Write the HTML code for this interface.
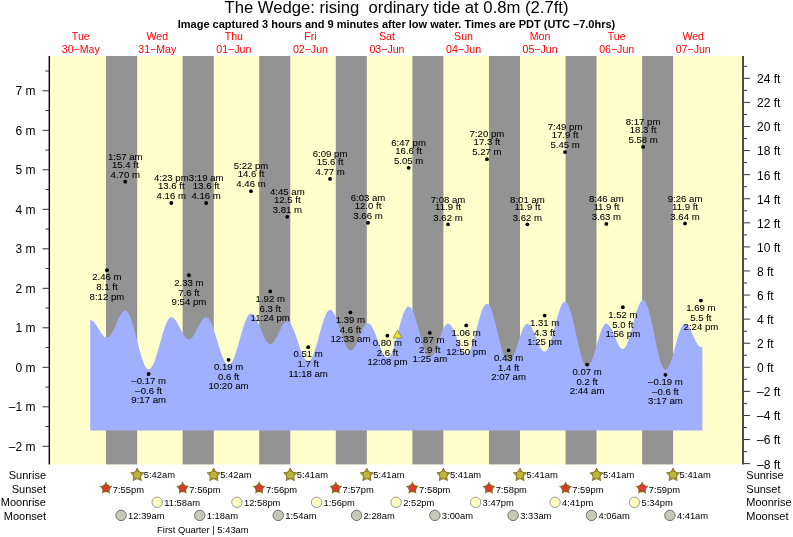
<!DOCTYPE html>
<html><head><meta charset="utf-8"><title>The Wedge tide chart</title>
<style>html,body{margin:0;padding:0;background:#fff;width:793px;height:537px;overflow:hidden}svg{display:block}</style>
</head><body>
<svg width="793" height="537" viewBox="0 0 793 537">
<rect x="0" y="0" width="793" height="537" fill="#ffffff"/>
<rect x="50" y="56" width="692.5" height="408.4" fill="#ffffcc"/>
<rect x="106.00" y="56" width="31.21" height="408.4" fill="#939393"/>
<rect x="182.62" y="56" width="31.16" height="408.4" fill="#939393"/>
<rect x="259.18" y="56" width="31.10" height="408.4" fill="#939393"/>
<rect x="335.79" y="56" width="31.05" height="408.4" fill="#939393"/>
<rect x="412.40" y="56" width="31.00" height="408.4" fill="#939393"/>
<rect x="488.96" y="56" width="31.00" height="408.4" fill="#939393"/>
<rect x="565.58" y="56" width="30.94" height="408.4" fill="#939393"/>
<rect x="642.14" y="56" width="30.94" height="408.4" fill="#939393"/>
<path d="M90.19,430.4 L90.19,319.98 L90.89,320.06 L91.59,320.29 L92.28,320.66 L92.98,321.17 L93.67,321.81 L94.37,322.58 L95.07,323.45 L95.76,324.41 L96.46,325.45 L97.16,326.54 L97.85,327.68 L98.55,328.83 L99.25,329.99 L99.94,331.12 L100.64,332.22 L101.34,333.26 L102.03,334.22 L102.73,335.09 L103.43,335.85 L104.12,336.50 L104.82,337.01 L105.52,337.38 L106.21,337.61 L106.91,337.68 L107.67,337.57 L108.44,337.22 L109.20,336.66 L109.97,335.88 L110.73,334.90 L111.49,333.73 L112.26,332.41 L113.02,330.94 L113.79,329.36 L114.55,327.69 L115.31,325.96 L116.08,324.20 L116.84,322.44 L117.61,320.71 L118.37,319.04 L119.14,317.46 L119.90,315.99 L120.66,314.66 L121.43,313.50 L122.19,312.52 L122.96,311.74 L123.72,311.17 L124.49,310.83 L125.25,310.71 L126.23,310.96 L127.20,311.71 L128.17,312.95 L129.15,314.64 L130.12,316.77 L131.10,319.30 L132.07,322.18 L133.05,325.37 L134.02,328.81 L135.00,332.44 L135.97,336.20 L136.95,340.03 L137.92,343.86 L138.90,347.62 L139.87,351.25 L140.85,354.69 L141.82,357.88 L142.80,360.76 L143.77,363.29 L144.74,365.42 L145.72,367.12 L146.69,368.35 L147.67,369.10 L148.64,369.35 L149.59,369.12 L150.53,368.46 L151.47,367.36 L152.42,365.85 L153.36,363.96 L154.31,361.71 L155.25,359.15 L156.19,356.31 L157.14,353.26 L158.08,350.03 L159.02,346.68 L159.97,343.28 L160.91,339.88 L161.86,336.53 L162.80,333.31 L163.74,330.25 L164.69,327.41 L165.63,324.85 L166.57,322.60 L167.52,320.71 L168.46,319.20 L169.41,318.10 L170.35,317.44 L171.29,317.22 L172.03,317.31 L172.76,317.59 L173.49,318.05 L174.23,318.69 L174.96,319.49 L175.69,320.44 L176.43,321.53 L177.16,322.72 L177.89,324.02 L178.63,325.38 L179.36,326.79 L180.09,328.23 L180.83,329.67 L181.56,331.08 L182.29,332.45 L183.02,333.74 L183.76,334.94 L184.49,336.02 L185.22,336.97 L185.96,337.77 L186.69,338.41 L187.42,338.87 L188.16,339.15 L188.89,339.25 L189.61,339.15 L190.33,338.87 L191.05,338.41 L191.77,337.77 L192.49,336.97 L193.21,336.02 L193.93,334.94 L194.65,333.74 L195.37,332.45 L196.09,331.08 L196.81,329.67 L197.53,328.23 L198.25,326.79 L198.97,325.38 L199.69,324.02 L200.41,322.72 L201.13,321.53 L201.85,320.44 L202.57,319.49 L203.29,318.69 L204.01,318.05 L204.73,317.59 L205.45,317.31 L206.17,317.22 L207.10,317.42 L208.04,318.03 L208.97,319.03 L209.90,320.42 L210.83,322.15 L211.77,324.22 L212.70,326.57 L213.63,329.16 L214.56,331.97 L215.50,334.93 L216.43,337.99 L217.36,341.11 L218.29,344.23 L219.23,347.30 L220.16,350.26 L221.09,353.06 L222.02,355.66 L222.96,358.01 L223.89,360.07 L224.82,361.81 L225.76,363.19 L226.69,364.20 L227.62,364.81 L228.55,365.01 L229.49,364.79 L230.42,364.14 L231.36,363.06 L232.29,361.57 L233.23,359.70 L234.16,357.48 L235.10,354.96 L236.03,352.16 L236.97,349.14 L237.90,345.96 L238.84,342.66 L239.77,339.31 L240.71,335.95 L241.64,332.66 L242.58,329.47 L243.51,326.46 L244.45,323.66 L245.38,321.13 L246.32,318.92 L247.25,317.05 L248.19,315.56 L249.12,314.48 L250.05,313.82 L250.99,313.60 L251.79,313.73 L252.59,314.12 L253.40,314.77 L254.20,315.65 L255.00,316.76 L255.80,318.08 L256.60,319.59 L257.41,321.25 L258.21,323.04 L259.01,324.94 L259.81,326.90 L260.61,328.89 L261.41,330.89 L262.22,332.85 L263.02,334.75 L263.82,336.54 L264.62,338.20 L265.42,339.71 L266.23,341.02 L267.03,342.14 L267.83,343.02 L268.63,343.66 L269.43,344.05 L270.24,344.18 L270.95,344.09 L271.66,343.80 L272.37,343.32 L273.08,342.66 L273.79,341.83 L274.50,340.85 L275.21,339.73 L275.92,338.50 L276.64,337.16 L277.35,335.75 L278.06,334.29 L278.77,332.81 L279.48,331.32 L280.19,329.86 L280.90,328.45 L281.61,327.12 L282.32,325.88 L283.04,324.76 L283.75,323.78 L284.46,322.95 L285.17,322.30 L285.88,321.82 L286.59,321.53 L287.30,321.43 L288.17,321.60 L289.04,322.11 L289.91,322.94 L290.78,324.09 L291.66,325.53 L292.53,327.25 L293.40,329.20 L294.27,331.36 L295.14,333.69 L296.01,336.15 L296.88,338.70 L297.75,341.29 L298.62,343.89 L299.49,346.44 L300.36,348.90 L301.23,351.23 L302.10,353.39 L302.97,355.34 L303.84,357.05 L304.71,358.50 L305.59,359.65 L306.46,360.48 L307.33,360.99 L308.20,361.16 L309.11,360.94 L310.02,360.29 L310.93,359.21 L311.84,357.72 L312.75,355.86 L313.66,353.65 L314.57,351.13 L315.48,348.34 L316.39,345.33 L317.30,342.15 L318.21,338.86 L319.12,335.52 L320.03,332.17 L320.94,328.88 L321.85,325.70 L322.76,322.69 L323.68,319.90 L324.59,317.38 L325.50,315.17 L326.41,313.31 L327.32,311.82 L328.23,310.74 L329.14,310.09 L330.05,309.87 L330.90,310.05 L331.75,310.56 L332.60,311.42 L333.45,312.60 L334.30,314.08 L335.15,315.83 L336.00,317.83 L336.85,320.04 L337.70,322.43 L338.56,324.95 L339.41,327.56 L340.26,330.22 L341.11,332.87 L341.96,335.48 L342.81,338.00 L343.66,340.39 L344.51,342.60 L345.36,344.61 L346.21,346.36 L347.06,347.84 L347.91,349.02 L348.76,349.87 L349.61,350.39 L350.46,350.56 L351.20,350.45 L351.93,350.10 L352.66,349.52 L353.39,348.73 L354.12,347.74 L354.85,346.56 L355.58,345.22 L356.31,343.73 L357.04,342.13 L357.77,340.44 L358.51,338.68 L359.24,336.90 L359.97,335.12 L360.70,333.36 L361.43,331.67 L362.16,330.07 L362.89,328.58 L363.62,327.24 L364.35,326.06 L365.09,325.07 L365.82,324.28 L366.55,323.70 L367.28,323.35 L368.01,323.24 L368.82,323.38 L369.63,323.82 L370.44,324.55 L371.24,325.54 L372.05,326.79 L372.86,328.28 L373.67,329.97 L374.48,331.84 L375.29,333.86 L376.10,336.00 L376.90,338.20 L377.71,340.45 L378.52,342.70 L379.33,344.91 L380.14,347.04 L380.95,349.06 L381.76,350.93 L382.56,352.63 L383.37,354.11 L384.18,355.36 L384.99,356.36 L385.80,357.08 L386.61,357.52 L387.42,357.67 L388.30,357.45 L389.18,356.80 L390.07,355.72 L390.95,354.24 L391.83,352.38 L392.72,350.17 L393.60,347.66 L394.49,344.88 L395.37,341.87 L396.25,338.71 L397.14,335.42 L398.02,332.08 L398.91,328.74 L399.79,325.46 L400.67,322.29 L401.56,319.29 L402.44,316.51 L403.33,313.99 L404.21,311.79 L405.09,309.93 L405.98,308.45 L406.86,307.37 L407.74,306.72 L408.63,306.50 L409.51,306.72 L410.39,307.36 L411.27,308.42 L412.16,309.87 L413.04,311.70 L413.92,313.87 L414.80,316.34 L415.68,319.08 L416.56,322.03 L417.45,325.15 L418.33,328.38 L419.21,331.66 L420.09,334.95 L420.97,338.18 L421.85,341.29 L422.74,344.24 L423.62,346.98 L424.50,349.46 L425.38,351.63 L426.26,353.45 L427.14,354.91 L428.03,355.97 L428.91,356.61 L429.79,356.83 L430.55,356.68 L431.31,356.26 L432.07,355.57 L432.83,354.61 L433.59,353.40 L434.35,351.98 L435.11,350.35 L435.87,348.55 L436.63,346.61 L437.39,344.56 L438.15,342.43 L438.91,340.27 L439.67,338.11 L440.43,335.99 L441.19,333.94 L441.95,331.99 L442.71,330.19 L443.47,328.57 L444.23,327.14 L444.99,325.93 L445.75,324.98 L446.51,324.28 L447.27,323.86 L448.03,323.72 L448.78,323.85 L449.54,324.24 L450.30,324.89 L451.06,325.78 L451.81,326.90 L452.57,328.23 L453.33,329.75 L454.09,331.42 L454.84,333.23 L455.60,335.14 L456.36,337.12 L457.12,339.13 L457.87,341.14 L458.63,343.12 L459.39,345.02 L460.15,346.83 L460.90,348.51 L461.66,350.02 L462.42,351.35 L463.18,352.47 L463.94,353.36 L464.69,354.01 L465.45,354.41 L466.21,354.54 L467.07,354.32 L467.94,353.67 L468.80,352.61 L469.66,351.14 L470.53,349.30 L471.39,347.12 L472.26,344.62 L473.12,341.87 L473.98,338.89 L474.85,335.75 L475.71,332.50 L476.58,329.19 L477.44,325.89 L478.30,322.64 L479.17,319.50 L480.03,316.52 L480.90,313.77 L481.76,311.27 L482.62,309.09 L483.49,307.25 L484.35,305.78 L485.22,304.71 L486.08,304.07 L486.94,303.85 L487.84,304.10 L488.75,304.84 L489.65,306.07 L490.55,307.75 L491.45,309.87 L492.35,312.38 L493.25,315.25 L494.16,318.42 L495.06,321.84 L495.96,325.45 L496.86,329.18 L497.76,332.99 L498.66,336.79 L499.57,340.53 L500.47,344.14 L501.37,347.56 L502.27,350.72 L503.17,353.59 L504.07,356.10 L504.98,358.22 L505.88,359.91 L506.78,361.13 L507.68,361.87 L508.58,362.12 L509.37,361.96 L510.15,361.47 L510.93,360.66 L511.72,359.55 L512.50,358.15 L513.29,356.50 L514.07,354.61 L514.86,352.52 L515.64,350.27 L516.42,347.89 L517.21,345.43 L517.99,342.92 L518.78,340.41 L519.56,337.95 L520.35,335.57 L521.13,333.32 L521.91,331.23 L522.70,329.34 L523.48,327.68 L524.27,326.29 L525.05,325.18 L525.83,324.37 L526.62,323.88 L527.40,323.72 L528.12,323.84 L528.84,324.19 L529.56,324.78 L530.27,325.58 L530.99,326.59 L531.71,327.79 L532.43,329.16 L533.15,330.67 L533.86,332.30 L534.58,334.02 L535.30,335.81 L536.02,337.62 L536.73,339.44 L537.45,341.22 L538.17,342.94 L538.89,344.58 L539.60,346.09 L540.32,347.46 L541.04,348.65 L541.76,349.67 L542.48,350.47 L543.19,351.05 L543.91,351.41 L544.63,351.53 L545.48,351.31 L546.33,350.68 L547.18,349.63 L548.03,348.19 L548.88,346.38 L549.73,344.23 L550.58,341.78 L551.43,339.07 L552.29,336.14 L553.14,333.06 L553.99,329.86 L554.84,326.61 L555.69,323.35 L556.54,320.16 L557.39,317.07 L558.24,314.15 L559.09,311.43 L559.94,308.98 L560.79,306.83 L561.64,305.02 L562.49,303.58 L563.34,302.53 L564.19,301.90 L565.05,301.68 L565.96,301.96 L566.88,302.79 L567.80,304.15 L568.72,306.02 L569.64,308.38 L570.56,311.17 L571.48,314.36 L572.40,317.88 L573.32,321.68 L574.24,325.69 L575.16,329.84 L576.08,334.07 L577.00,338.30 L577.92,342.45 L578.84,346.46 L579.75,350.26 L580.67,353.79 L581.59,356.97 L582.51,359.76 L583.43,362.12 L584.35,363.99 L585.27,365.35 L586.19,366.18 L587.11,366.46 L587.91,366.27 L588.71,365.73 L589.52,364.83 L590.32,363.59 L591.12,362.03 L591.92,360.18 L592.72,358.07 L593.52,355.74 L594.33,353.23 L595.13,350.57 L595.93,347.82 L596.73,345.03 L597.53,342.23 L598.34,339.48 L599.14,336.83 L599.94,334.31 L600.74,331.98 L601.54,329.87 L602.35,328.02 L603.15,326.47 L603.95,325.23 L604.75,324.33 L605.55,323.78 L606.36,323.60 L607.04,323.70 L607.73,324.03 L608.42,324.56 L609.10,325.30 L609.79,326.22 L610.48,327.32 L611.16,328.57 L611.85,329.95 L612.54,331.44 L613.22,333.01 L613.91,334.64 L614.60,336.30 L615.28,337.96 L615.97,339.59 L616.66,341.16 L617.34,342.65 L618.03,344.03 L618.72,345.28 L619.40,346.38 L620.09,347.30 L620.78,348.03 L621.46,348.57 L622.15,348.89 L622.84,349.00 L623.68,348.79 L624.53,348.17 L625.37,347.14 L626.21,345.73 L627.06,343.95 L627.90,341.84 L628.75,339.44 L629.59,336.78 L630.43,333.91 L631.28,330.89 L632.12,327.75 L632.97,324.56 L633.81,321.37 L634.65,318.23 L635.50,315.21 L636.34,312.34 L637.19,309.68 L638.03,307.28 L638.87,305.17 L639.72,303.39 L640.56,301.98 L641.41,300.95 L642.25,300.33 L643.09,300.12 L644.02,300.42 L644.95,301.30 L645.89,302.76 L646.82,304.77 L647.75,307.30 L648.68,310.29 L649.61,313.71 L650.54,317.49 L651.47,321.56 L652.40,325.86 L653.33,330.32 L654.26,334.85 L655.19,339.39 L656.12,343.84 L657.05,348.15 L657.98,352.22 L658.91,356.00 L659.84,359.41 L660.77,362.41 L661.70,364.93 L662.63,366.94 L663.56,368.40 L664.49,369.29 L665.42,369.59 L666.24,369.39 L667.06,368.80 L667.88,367.83 L668.69,366.50 L669.51,364.82 L670.33,362.83 L671.15,360.57 L671.96,358.06 L672.78,355.35 L673.60,352.50 L674.42,349.54 L675.23,346.53 L676.05,343.52 L676.87,340.56 L677.69,337.71 L678.50,335.00 L679.32,332.50 L680.14,330.23 L680.96,328.24 L681.77,326.56 L682.59,325.23 L683.41,324.26 L684.22,323.67 L685.04,323.48 L685.70,323.58 L686.36,323.88 L687.02,324.37 L687.68,325.05 L688.34,325.90 L689.00,326.91 L689.66,328.07 L690.32,329.35 L690.98,330.72 L691.64,332.18 L692.30,333.68 L692.96,335.21 L693.62,336.75 L694.28,338.25 L694.94,339.71 L695.60,341.08 L696.26,342.36 L696.93,343.51 L697.59,344.53 L698.25,345.38 L698.91,346.06 L699.57,346.55 L700.23,346.85 L700.89,346.95 L702.39,346.95 L702.39,430.4 Z" fill="#a0b0ff"/>
<line x1="49.3" y1="56" x2="49.3" y2="464.4" stroke="#000000" stroke-width="1.4"/>
<line x1="743" y1="56" x2="743" y2="464.4" stroke="#000000" stroke-width="1.4"/>
<line x1="42.5" y1="446.30" x2="49" y2="446.30" stroke="#333" stroke-width="1"/>
<text x="35.5" y="450.60" font-family="'Liberation Sans', Arial, Helvetica, sans-serif" font-size="12" fill="#000000" text-anchor="end">–2 m</text>
<line x1="45.5" y1="426.55" x2="49" y2="426.55" stroke="#333" stroke-width="1"/>
<line x1="42.5" y1="406.80" x2="49" y2="406.80" stroke="#333" stroke-width="1"/>
<text x="35.5" y="411.10" font-family="'Liberation Sans', Arial, Helvetica, sans-serif" font-size="12" fill="#000000" text-anchor="end">–1 m</text>
<line x1="45.5" y1="387.05" x2="49" y2="387.05" stroke="#333" stroke-width="1"/>
<line x1="42.5" y1="367.30" x2="49" y2="367.30" stroke="#333" stroke-width="1"/>
<text x="35.5" y="371.60" font-family="'Liberation Sans', Arial, Helvetica, sans-serif" font-size="12" fill="#000000" text-anchor="end">0 m</text>
<line x1="45.5" y1="347.55" x2="49" y2="347.55" stroke="#333" stroke-width="1"/>
<line x1="42.5" y1="327.80" x2="49" y2="327.80" stroke="#333" stroke-width="1"/>
<text x="35.5" y="332.10" font-family="'Liberation Sans', Arial, Helvetica, sans-serif" font-size="12" fill="#000000" text-anchor="end">1 m</text>
<line x1="45.5" y1="308.05" x2="49" y2="308.05" stroke="#333" stroke-width="1"/>
<line x1="42.5" y1="288.30" x2="49" y2="288.30" stroke="#333" stroke-width="1"/>
<text x="35.5" y="292.60" font-family="'Liberation Sans', Arial, Helvetica, sans-serif" font-size="12" fill="#000000" text-anchor="end">2 m</text>
<line x1="45.5" y1="268.55" x2="49" y2="268.55" stroke="#333" stroke-width="1"/>
<line x1="42.5" y1="248.80" x2="49" y2="248.80" stroke="#333" stroke-width="1"/>
<text x="35.5" y="253.10" font-family="'Liberation Sans', Arial, Helvetica, sans-serif" font-size="12" fill="#000000" text-anchor="end">3 m</text>
<line x1="45.5" y1="229.05" x2="49" y2="229.05" stroke="#333" stroke-width="1"/>
<line x1="42.5" y1="209.30" x2="49" y2="209.30" stroke="#333" stroke-width="1"/>
<text x="35.5" y="213.60" font-family="'Liberation Sans', Arial, Helvetica, sans-serif" font-size="12" fill="#000000" text-anchor="end">4 m</text>
<line x1="45.5" y1="189.55" x2="49" y2="189.55" stroke="#333" stroke-width="1"/>
<line x1="42.5" y1="169.80" x2="49" y2="169.80" stroke="#333" stroke-width="1"/>
<text x="35.5" y="174.10" font-family="'Liberation Sans', Arial, Helvetica, sans-serif" font-size="12" fill="#000000" text-anchor="end">5 m</text>
<line x1="45.5" y1="150.05" x2="49" y2="150.05" stroke="#333" stroke-width="1"/>
<line x1="42.5" y1="130.30" x2="49" y2="130.30" stroke="#333" stroke-width="1"/>
<text x="35.5" y="134.60" font-family="'Liberation Sans', Arial, Helvetica, sans-serif" font-size="12" fill="#000000" text-anchor="end">6 m</text>
<line x1="45.5" y1="110.55" x2="49" y2="110.55" stroke="#333" stroke-width="1"/>
<line x1="42.5" y1="90.80" x2="49" y2="90.80" stroke="#333" stroke-width="1"/>
<text x="35.5" y="95.10" font-family="'Liberation Sans', Arial, Helvetica, sans-serif" font-size="12" fill="#000000" text-anchor="end">7 m</text>
<line x1="45.5" y1="71.05" x2="49" y2="71.05" stroke="#333" stroke-width="1"/>
<line x1="743.5" y1="463.62" x2="750" y2="463.62" stroke="#333" stroke-width="1"/>
<text x="757" y="468.52" font-family="'Liberation Sans', Arial, Helvetica, sans-serif" font-size="12" fill="#000000">–8 ft</text>
<line x1="743.5" y1="451.58" x2="747" y2="451.58" stroke="#333" stroke-width="1"/>
<line x1="743.5" y1="439.54" x2="750" y2="439.54" stroke="#333" stroke-width="1"/>
<text x="757" y="444.44" font-family="'Liberation Sans', Arial, Helvetica, sans-serif" font-size="12" fill="#000000">–6 ft</text>
<line x1="743.5" y1="427.50" x2="747" y2="427.50" stroke="#333" stroke-width="1"/>
<line x1="743.5" y1="415.46" x2="750" y2="415.46" stroke="#333" stroke-width="1"/>
<text x="757" y="420.36" font-family="'Liberation Sans', Arial, Helvetica, sans-serif" font-size="12" fill="#000000">–4 ft</text>
<line x1="743.5" y1="403.42" x2="747" y2="403.42" stroke="#333" stroke-width="1"/>
<line x1="743.5" y1="391.38" x2="750" y2="391.38" stroke="#333" stroke-width="1"/>
<text x="757" y="396.28" font-family="'Liberation Sans', Arial, Helvetica, sans-serif" font-size="12" fill="#000000">–2 ft</text>
<line x1="743.5" y1="379.34" x2="747" y2="379.34" stroke="#333" stroke-width="1"/>
<line x1="743.5" y1="367.30" x2="750" y2="367.30" stroke="#333" stroke-width="1"/>
<text x="757" y="372.20" font-family="'Liberation Sans', Arial, Helvetica, sans-serif" font-size="12" fill="#000000">0 ft</text>
<line x1="743.5" y1="355.26" x2="747" y2="355.26" stroke="#333" stroke-width="1"/>
<line x1="743.5" y1="343.22" x2="750" y2="343.22" stroke="#333" stroke-width="1"/>
<text x="757" y="348.12" font-family="'Liberation Sans', Arial, Helvetica, sans-serif" font-size="12" fill="#000000">2 ft</text>
<line x1="743.5" y1="331.18" x2="747" y2="331.18" stroke="#333" stroke-width="1"/>
<line x1="743.5" y1="319.14" x2="750" y2="319.14" stroke="#333" stroke-width="1"/>
<text x="757" y="324.04" font-family="'Liberation Sans', Arial, Helvetica, sans-serif" font-size="12" fill="#000000">4 ft</text>
<line x1="743.5" y1="307.10" x2="747" y2="307.10" stroke="#333" stroke-width="1"/>
<line x1="743.5" y1="295.06" x2="750" y2="295.06" stroke="#333" stroke-width="1"/>
<text x="757" y="299.96" font-family="'Liberation Sans', Arial, Helvetica, sans-serif" font-size="12" fill="#000000">6 ft</text>
<line x1="743.5" y1="283.02" x2="747" y2="283.02" stroke="#333" stroke-width="1"/>
<line x1="743.5" y1="270.98" x2="750" y2="270.98" stroke="#333" stroke-width="1"/>
<text x="757" y="275.88" font-family="'Liberation Sans', Arial, Helvetica, sans-serif" font-size="12" fill="#000000">8 ft</text>
<line x1="743.5" y1="258.94" x2="747" y2="258.94" stroke="#333" stroke-width="1"/>
<line x1="743.5" y1="246.90" x2="750" y2="246.90" stroke="#333" stroke-width="1"/>
<text x="757" y="251.80" font-family="'Liberation Sans', Arial, Helvetica, sans-serif" font-size="12" fill="#000000">10 ft</text>
<line x1="743.5" y1="234.86" x2="747" y2="234.86" stroke="#333" stroke-width="1"/>
<line x1="743.5" y1="222.82" x2="750" y2="222.82" stroke="#333" stroke-width="1"/>
<text x="757" y="227.72" font-family="'Liberation Sans', Arial, Helvetica, sans-serif" font-size="12" fill="#000000">12 ft</text>
<line x1="743.5" y1="210.79" x2="747" y2="210.79" stroke="#333" stroke-width="1"/>
<line x1="743.5" y1="198.75" x2="750" y2="198.75" stroke="#333" stroke-width="1"/>
<text x="757" y="203.65" font-family="'Liberation Sans', Arial, Helvetica, sans-serif" font-size="12" fill="#000000">14 ft</text>
<line x1="743.5" y1="186.71" x2="747" y2="186.71" stroke="#333" stroke-width="1"/>
<line x1="743.5" y1="174.67" x2="750" y2="174.67" stroke="#333" stroke-width="1"/>
<text x="757" y="179.57" font-family="'Liberation Sans', Arial, Helvetica, sans-serif" font-size="12" fill="#000000">16 ft</text>
<line x1="743.5" y1="162.63" x2="747" y2="162.63" stroke="#333" stroke-width="1"/>
<line x1="743.5" y1="150.59" x2="750" y2="150.59" stroke="#333" stroke-width="1"/>
<text x="757" y="155.49" font-family="'Liberation Sans', Arial, Helvetica, sans-serif" font-size="12" fill="#000000">18 ft</text>
<line x1="743.5" y1="138.55" x2="747" y2="138.55" stroke="#333" stroke-width="1"/>
<line x1="743.5" y1="126.51" x2="750" y2="126.51" stroke="#333" stroke-width="1"/>
<text x="757" y="131.41" font-family="'Liberation Sans', Arial, Helvetica, sans-serif" font-size="12" fill="#000000">20 ft</text>
<line x1="743.5" y1="114.47" x2="747" y2="114.47" stroke="#333" stroke-width="1"/>
<line x1="743.5" y1="102.43" x2="750" y2="102.43" stroke="#333" stroke-width="1"/>
<text x="757" y="107.33" font-family="'Liberation Sans', Arial, Helvetica, sans-serif" font-size="12" fill="#000000">22 ft</text>
<line x1="743.5" y1="90.39" x2="747" y2="90.39" stroke="#333" stroke-width="1"/>
<line x1="743.5" y1="78.35" x2="750" y2="78.35" stroke="#333" stroke-width="1"/>
<text x="757" y="83.25" font-family="'Liberation Sans', Arial, Helvetica, sans-serif" font-size="12" fill="#000000">24 ft</text>
<line x1="743.5" y1="66.31" x2="747" y2="66.31" stroke="#333" stroke-width="1"/>
<text x="396.5" y="13.2" font-family="'Liberation Sans', Arial, Helvetica, sans-serif" font-size="16.67" fill="#000000" text-anchor="middle" style="white-space:pre">The Wedge: rising  ordinary tide at 0.8m (2.7ft)</text>
<text x="396.5" y="27.9" font-family="'Liberation Sans', Arial, Helvetica, sans-serif" font-size="11" font-weight="bold" fill="#000000" text-anchor="middle">Image captured 3 hours and 9 minutes after low water. Times are PDT (UTC –7.0hrs)</text>
<text x="80.75" y="39.7" font-family="'Liberation Sans', Arial, Helvetica, sans-serif" font-size="10.6" fill="#ff0000" text-anchor="middle">Tue</text>
<text x="80.75" y="52.7" font-family="'Liberation Sans', Arial, Helvetica, sans-serif" font-size="10.6" fill="#ff0000" text-anchor="middle">30−May</text>
<text x="157.31" y="39.7" font-family="'Liberation Sans', Arial, Helvetica, sans-serif" font-size="10.6" fill="#ff0000" text-anchor="middle">Wed</text>
<text x="157.31" y="52.7" font-family="'Liberation Sans', Arial, Helvetica, sans-serif" font-size="10.6" fill="#ff0000" text-anchor="middle">31−May</text>
<text x="233.87" y="39.7" font-family="'Liberation Sans', Arial, Helvetica, sans-serif" font-size="10.6" fill="#ff0000" text-anchor="middle">Thu</text>
<text x="233.87" y="52.7" font-family="'Liberation Sans', Arial, Helvetica, sans-serif" font-size="10.6" fill="#ff0000" text-anchor="middle">01−Jun</text>
<text x="310.43" y="39.7" font-family="'Liberation Sans', Arial, Helvetica, sans-serif" font-size="10.6" fill="#ff0000" text-anchor="middle">Fri</text>
<text x="310.43" y="52.7" font-family="'Liberation Sans', Arial, Helvetica, sans-serif" font-size="10.6" fill="#ff0000" text-anchor="middle">02−Jun</text>
<text x="386.99" y="39.7" font-family="'Liberation Sans', Arial, Helvetica, sans-serif" font-size="10.6" fill="#ff0000" text-anchor="middle">Sat</text>
<text x="386.99" y="52.7" font-family="'Liberation Sans', Arial, Helvetica, sans-serif" font-size="10.6" fill="#ff0000" text-anchor="middle">03−Jun</text>
<text x="463.55" y="39.7" font-family="'Liberation Sans', Arial, Helvetica, sans-serif" font-size="10.6" fill="#ff0000" text-anchor="middle">Sun</text>
<text x="463.55" y="52.7" font-family="'Liberation Sans', Arial, Helvetica, sans-serif" font-size="10.6" fill="#ff0000" text-anchor="middle">04−Jun</text>
<text x="540.11" y="39.7" font-family="'Liberation Sans', Arial, Helvetica, sans-serif" font-size="10.6" fill="#ff0000" text-anchor="middle">Mon</text>
<text x="540.11" y="52.7" font-family="'Liberation Sans', Arial, Helvetica, sans-serif" font-size="10.6" fill="#ff0000" text-anchor="middle">05−Jun</text>
<text x="616.67" y="39.7" font-family="'Liberation Sans', Arial, Helvetica, sans-serif" font-size="10.6" fill="#ff0000" text-anchor="middle">Tue</text>
<text x="616.67" y="52.7" font-family="'Liberation Sans', Arial, Helvetica, sans-serif" font-size="10.6" fill="#ff0000" text-anchor="middle">06−Jun</text>
<text x="693.23" y="39.7" font-family="'Liberation Sans', Arial, Helvetica, sans-serif" font-size="10.6" fill="#ff0000" text-anchor="middle">Wed</text>
<text x="693.23" y="52.7" font-family="'Liberation Sans', Arial, Helvetica, sans-serif" font-size="10.6" fill="#ff0000" text-anchor="middle">07−Jun</text>
<circle cx="106.91" cy="270.13" r="1.9" fill="#000"/>
<text x="106.91" y="280.43" font-family="'Liberation Sans', Arial, Helvetica, sans-serif" font-size="9.6" fill="#000000" stroke="#000000" stroke-width="0.07" text-anchor="middle">2.46 m</text>
<text x="106.91" y="290.43" font-family="'Liberation Sans', Arial, Helvetica, sans-serif" font-size="9.6" fill="#000000" stroke="#000000" stroke-width="0.07" text-anchor="middle">8.1 ft</text>
<text x="106.91" y="299.53" font-family="'Liberation Sans', Arial, Helvetica, sans-serif" font-size="9.6" fill="#000000" stroke="#000000" stroke-width="0.07" text-anchor="middle">8:12 pm</text>
<circle cx="125.25" cy="181.65" r="1.9" fill="#000"/>
<text x="125.25" y="159.95" font-family="'Liberation Sans', Arial, Helvetica, sans-serif" font-size="9.6" fill="#000000" stroke="#000000" stroke-width="0.07" text-anchor="middle">1:57 am</text>
<text x="125.25" y="167.75" font-family="'Liberation Sans', Arial, Helvetica, sans-serif" font-size="9.6" fill="#000000" stroke="#000000" stroke-width="0.07" text-anchor="middle">15.4 ft</text>
<text x="125.25" y="177.85" font-family="'Liberation Sans', Arial, Helvetica, sans-serif" font-size="9.6" fill="#000000" stroke="#000000" stroke-width="0.07" text-anchor="middle">4.70 m</text>
<circle cx="148.64" cy="374.01" r="1.9" fill="#000"/>
<text x="148.64" y="384.31" font-family="'Liberation Sans', Arial, Helvetica, sans-serif" font-size="9.6" fill="#000000" stroke="#000000" stroke-width="0.07" text-anchor="middle">–0.17 m</text>
<text x="148.64" y="394.31" font-family="'Liberation Sans', Arial, Helvetica, sans-serif" font-size="9.6" fill="#000000" stroke="#000000" stroke-width="0.07" text-anchor="middle">–0.6 ft</text>
<text x="148.64" y="403.41" font-family="'Liberation Sans', Arial, Helvetica, sans-serif" font-size="9.6" fill="#000000" stroke="#000000" stroke-width="0.07" text-anchor="middle">9:17 am</text>
<circle cx="171.29" cy="202.98" r="1.9" fill="#000"/>
<text x="171.29" y="181.28" font-family="'Liberation Sans', Arial, Helvetica, sans-serif" font-size="9.6" fill="#000000" stroke="#000000" stroke-width="0.07" text-anchor="middle">4:23 pm</text>
<text x="171.29" y="189.08" font-family="'Liberation Sans', Arial, Helvetica, sans-serif" font-size="9.6" fill="#000000" stroke="#000000" stroke-width="0.07" text-anchor="middle">13.6 ft</text>
<text x="171.29" y="199.18" font-family="'Liberation Sans', Arial, Helvetica, sans-serif" font-size="9.6" fill="#000000" stroke="#000000" stroke-width="0.07" text-anchor="middle">4.16 m</text>
<circle cx="188.89" cy="275.26" r="1.9" fill="#000"/>
<text x="188.89" y="285.56" font-family="'Liberation Sans', Arial, Helvetica, sans-serif" font-size="9.6" fill="#000000" stroke="#000000" stroke-width="0.07" text-anchor="middle">2.33 m</text>
<text x="188.89" y="295.56" font-family="'Liberation Sans', Arial, Helvetica, sans-serif" font-size="9.6" fill="#000000" stroke="#000000" stroke-width="0.07" text-anchor="middle">7.6 ft</text>
<text x="188.89" y="304.66" font-family="'Liberation Sans', Arial, Helvetica, sans-serif" font-size="9.6" fill="#000000" stroke="#000000" stroke-width="0.07" text-anchor="middle">9:54 pm</text>
<circle cx="206.17" cy="202.98" r="1.9" fill="#000"/>
<text x="206.17" y="181.28" font-family="'Liberation Sans', Arial, Helvetica, sans-serif" font-size="9.6" fill="#000000" stroke="#000000" stroke-width="0.07" text-anchor="middle">3:19 am</text>
<text x="206.17" y="189.08" font-family="'Liberation Sans', Arial, Helvetica, sans-serif" font-size="9.6" fill="#000000" stroke="#000000" stroke-width="0.07" text-anchor="middle">13.6 ft</text>
<text x="206.17" y="199.18" font-family="'Liberation Sans', Arial, Helvetica, sans-serif" font-size="9.6" fill="#000000" stroke="#000000" stroke-width="0.07" text-anchor="middle">4.16 m</text>
<circle cx="228.55" cy="359.80" r="1.9" fill="#000"/>
<text x="228.55" y="370.10" font-family="'Liberation Sans', Arial, Helvetica, sans-serif" font-size="9.6" fill="#000000" stroke="#000000" stroke-width="0.07" text-anchor="middle">0.19 m</text>
<text x="228.55" y="380.10" font-family="'Liberation Sans', Arial, Helvetica, sans-serif" font-size="9.6" fill="#000000" stroke="#000000" stroke-width="0.07" text-anchor="middle">0.6 ft</text>
<text x="228.55" y="389.19" font-family="'Liberation Sans', Arial, Helvetica, sans-serif" font-size="9.6" fill="#000000" stroke="#000000" stroke-width="0.07" text-anchor="middle">10:20 am</text>
<circle cx="250.99" cy="191.13" r="1.9" fill="#000"/>
<text x="250.99" y="169.43" font-family="'Liberation Sans', Arial, Helvetica, sans-serif" font-size="9.6" fill="#000000" stroke="#000000" stroke-width="0.07" text-anchor="middle">5:22 pm</text>
<text x="250.99" y="177.23" font-family="'Liberation Sans', Arial, Helvetica, sans-serif" font-size="9.6" fill="#000000" stroke="#000000" stroke-width="0.07" text-anchor="middle">14.6 ft</text>
<text x="250.99" y="187.33" font-family="'Liberation Sans', Arial, Helvetica, sans-serif" font-size="9.6" fill="#000000" stroke="#000000" stroke-width="0.07" text-anchor="middle">4.46 m</text>
<circle cx="270.24" cy="291.46" r="1.9" fill="#000"/>
<text x="270.24" y="301.76" font-family="'Liberation Sans', Arial, Helvetica, sans-serif" font-size="9.6" fill="#000000" stroke="#000000" stroke-width="0.07" text-anchor="middle">1.92 m</text>
<text x="270.24" y="311.76" font-family="'Liberation Sans', Arial, Helvetica, sans-serif" font-size="9.6" fill="#000000" stroke="#000000" stroke-width="0.07" text-anchor="middle">6.3 ft</text>
<text x="270.24" y="320.86" font-family="'Liberation Sans', Arial, Helvetica, sans-serif" font-size="9.6" fill="#000000" stroke="#000000" stroke-width="0.07" text-anchor="middle">11:24 pm</text>
<circle cx="287.30" cy="216.81" r="1.9" fill="#000"/>
<text x="287.30" y="195.11" font-family="'Liberation Sans', Arial, Helvetica, sans-serif" font-size="9.6" fill="#000000" stroke="#000000" stroke-width="0.07" text-anchor="middle">4:45 am</text>
<text x="287.30" y="202.91" font-family="'Liberation Sans', Arial, Helvetica, sans-serif" font-size="9.6" fill="#000000" stroke="#000000" stroke-width="0.07" text-anchor="middle">12.5 ft</text>
<text x="287.30" y="213.00" font-family="'Liberation Sans', Arial, Helvetica, sans-serif" font-size="9.6" fill="#000000" stroke="#000000" stroke-width="0.07" text-anchor="middle">3.81 m</text>
<circle cx="308.20" cy="347.16" r="1.9" fill="#000"/>
<text x="308.20" y="357.46" font-family="'Liberation Sans', Arial, Helvetica, sans-serif" font-size="9.6" fill="#000000" stroke="#000000" stroke-width="0.07" text-anchor="middle">0.51 m</text>
<text x="308.20" y="367.46" font-family="'Liberation Sans', Arial, Helvetica, sans-serif" font-size="9.6" fill="#000000" stroke="#000000" stroke-width="0.07" text-anchor="middle">1.7 ft</text>
<text x="308.20" y="376.56" font-family="'Liberation Sans', Arial, Helvetica, sans-serif" font-size="9.6" fill="#000000" stroke="#000000" stroke-width="0.07" text-anchor="middle">11:18 am</text>
<circle cx="330.05" cy="178.89" r="1.9" fill="#000"/>
<text x="330.05" y="157.19" font-family="'Liberation Sans', Arial, Helvetica, sans-serif" font-size="9.6" fill="#000000" stroke="#000000" stroke-width="0.07" text-anchor="middle">6:09 pm</text>
<text x="330.05" y="164.99" font-family="'Liberation Sans', Arial, Helvetica, sans-serif" font-size="9.6" fill="#000000" stroke="#000000" stroke-width="0.07" text-anchor="middle">15.6 ft</text>
<text x="330.05" y="175.09" font-family="'Liberation Sans', Arial, Helvetica, sans-serif" font-size="9.6" fill="#000000" stroke="#000000" stroke-width="0.07" text-anchor="middle">4.77 m</text>
<circle cx="350.46" cy="312.40" r="1.9" fill="#000"/>
<text x="350.46" y="322.70" font-family="'Liberation Sans', Arial, Helvetica, sans-serif" font-size="9.6" fill="#000000" stroke="#000000" stroke-width="0.07" text-anchor="middle">1.39 m</text>
<text x="350.46" y="332.70" font-family="'Liberation Sans', Arial, Helvetica, sans-serif" font-size="9.6" fill="#000000" stroke="#000000" stroke-width="0.07" text-anchor="middle">4.6 ft</text>
<text x="350.46" y="341.80" font-family="'Liberation Sans', Arial, Helvetica, sans-serif" font-size="9.6" fill="#000000" stroke="#000000" stroke-width="0.07" text-anchor="middle">12:33 am</text>
<circle cx="368.01" cy="222.73" r="1.9" fill="#000"/>
<text x="368.01" y="201.03" font-family="'Liberation Sans', Arial, Helvetica, sans-serif" font-size="9.6" fill="#000000" stroke="#000000" stroke-width="0.07" text-anchor="middle">6:03 am</text>
<text x="368.01" y="208.83" font-family="'Liberation Sans', Arial, Helvetica, sans-serif" font-size="9.6" fill="#000000" stroke="#000000" stroke-width="0.07" text-anchor="middle">12.0 ft</text>
<text x="368.01" y="218.93" font-family="'Liberation Sans', Arial, Helvetica, sans-serif" font-size="9.6" fill="#000000" stroke="#000000" stroke-width="0.07" text-anchor="middle">3.66 m</text>
<circle cx="387.42" cy="335.70" r="1.9" fill="#000"/>
<text x="387.42" y="346.00" font-family="'Liberation Sans', Arial, Helvetica, sans-serif" font-size="9.6" fill="#000000" stroke="#000000" stroke-width="0.07" text-anchor="middle">0.80 m</text>
<text x="387.42" y="356.00" font-family="'Liberation Sans', Arial, Helvetica, sans-serif" font-size="9.6" fill="#000000" stroke="#000000" stroke-width="0.07" text-anchor="middle">2.6 ft</text>
<text x="387.42" y="365.10" font-family="'Liberation Sans', Arial, Helvetica, sans-serif" font-size="9.6" fill="#000000" stroke="#000000" stroke-width="0.07" text-anchor="middle">12:08 pm</text>
<circle cx="408.63" cy="167.83" r="1.9" fill="#000"/>
<text x="408.63" y="146.13" font-family="'Liberation Sans', Arial, Helvetica, sans-serif" font-size="9.6" fill="#000000" stroke="#000000" stroke-width="0.07" text-anchor="middle">6:47 pm</text>
<text x="408.63" y="153.93" font-family="'Liberation Sans', Arial, Helvetica, sans-serif" font-size="9.6" fill="#000000" stroke="#000000" stroke-width="0.07" text-anchor="middle">16.6 ft</text>
<text x="408.63" y="164.03" font-family="'Liberation Sans', Arial, Helvetica, sans-serif" font-size="9.6" fill="#000000" stroke="#000000" stroke-width="0.07" text-anchor="middle">5.05 m</text>
<circle cx="429.79" cy="332.94" r="1.9" fill="#000"/>
<text x="429.79" y="343.24" font-family="'Liberation Sans', Arial, Helvetica, sans-serif" font-size="9.6" fill="#000000" stroke="#000000" stroke-width="0.07" text-anchor="middle">0.87 m</text>
<text x="429.79" y="353.24" font-family="'Liberation Sans', Arial, Helvetica, sans-serif" font-size="9.6" fill="#000000" stroke="#000000" stroke-width="0.07" text-anchor="middle">2.9 ft</text>
<text x="429.79" y="362.33" font-family="'Liberation Sans', Arial, Helvetica, sans-serif" font-size="9.6" fill="#000000" stroke="#000000" stroke-width="0.07" text-anchor="middle">1:25 am</text>
<circle cx="448.03" cy="224.31" r="1.9" fill="#000"/>
<text x="448.03" y="202.61" font-family="'Liberation Sans', Arial, Helvetica, sans-serif" font-size="9.6" fill="#000000" stroke="#000000" stroke-width="0.07" text-anchor="middle">7:08 am</text>
<text x="448.03" y="210.41" font-family="'Liberation Sans', Arial, Helvetica, sans-serif" font-size="9.6" fill="#000000" stroke="#000000" stroke-width="0.07" text-anchor="middle">11.9 ft</text>
<text x="448.03" y="220.51" font-family="'Liberation Sans', Arial, Helvetica, sans-serif" font-size="9.6" fill="#000000" stroke="#000000" stroke-width="0.07" text-anchor="middle">3.62 m</text>
<circle cx="466.21" cy="325.43" r="1.9" fill="#000"/>
<text x="466.21" y="335.73" font-family="'Liberation Sans', Arial, Helvetica, sans-serif" font-size="9.6" fill="#000000" stroke="#000000" stroke-width="0.07" text-anchor="middle">1.06 m</text>
<text x="466.21" y="345.73" font-family="'Liberation Sans', Arial, Helvetica, sans-serif" font-size="9.6" fill="#000000" stroke="#000000" stroke-width="0.07" text-anchor="middle">3.5 ft</text>
<text x="466.21" y="354.83" font-family="'Liberation Sans', Arial, Helvetica, sans-serif" font-size="9.6" fill="#000000" stroke="#000000" stroke-width="0.07" text-anchor="middle">12:50 pm</text>
<circle cx="486.94" cy="159.14" r="1.9" fill="#000"/>
<text x="486.94" y="137.44" font-family="'Liberation Sans', Arial, Helvetica, sans-serif" font-size="9.6" fill="#000000" stroke="#000000" stroke-width="0.07" text-anchor="middle">7:20 pm</text>
<text x="486.94" y="145.24" font-family="'Liberation Sans', Arial, Helvetica, sans-serif" font-size="9.6" fill="#000000" stroke="#000000" stroke-width="0.07" text-anchor="middle">17.3 ft</text>
<text x="486.94" y="155.34" font-family="'Liberation Sans', Arial, Helvetica, sans-serif" font-size="9.6" fill="#000000" stroke="#000000" stroke-width="0.07" text-anchor="middle">5.27 m</text>
<circle cx="508.58" cy="350.31" r="1.9" fill="#000"/>
<text x="508.58" y="360.62" font-family="'Liberation Sans', Arial, Helvetica, sans-serif" font-size="9.6" fill="#000000" stroke="#000000" stroke-width="0.07" text-anchor="middle">0.43 m</text>
<text x="508.58" y="370.62" font-family="'Liberation Sans', Arial, Helvetica, sans-serif" font-size="9.6" fill="#000000" stroke="#000000" stroke-width="0.07" text-anchor="middle">1.4 ft</text>
<text x="508.58" y="379.71" font-family="'Liberation Sans', Arial, Helvetica, sans-serif" font-size="9.6" fill="#000000" stroke="#000000" stroke-width="0.07" text-anchor="middle">2:07 am</text>
<circle cx="527.40" cy="224.31" r="1.9" fill="#000"/>
<text x="527.40" y="202.61" font-family="'Liberation Sans', Arial, Helvetica, sans-serif" font-size="9.6" fill="#000000" stroke="#000000" stroke-width="0.07" text-anchor="middle">8:01 am</text>
<text x="527.40" y="210.41" font-family="'Liberation Sans', Arial, Helvetica, sans-serif" font-size="9.6" fill="#000000" stroke="#000000" stroke-width="0.07" text-anchor="middle">11.9 ft</text>
<text x="527.40" y="220.51" font-family="'Liberation Sans', Arial, Helvetica, sans-serif" font-size="9.6" fill="#000000" stroke="#000000" stroke-width="0.07" text-anchor="middle">3.62 m</text>
<circle cx="544.63" cy="315.56" r="1.9" fill="#000"/>
<text x="544.63" y="325.86" font-family="'Liberation Sans', Arial, Helvetica, sans-serif" font-size="9.6" fill="#000000" stroke="#000000" stroke-width="0.07" text-anchor="middle">1.31 m</text>
<text x="544.63" y="335.86" font-family="'Liberation Sans', Arial, Helvetica, sans-serif" font-size="9.6" fill="#000000" stroke="#000000" stroke-width="0.07" text-anchor="middle">4.3 ft</text>
<text x="544.63" y="344.95" font-family="'Liberation Sans', Arial, Helvetica, sans-serif" font-size="9.6" fill="#000000" stroke="#000000" stroke-width="0.07" text-anchor="middle">1:25 pm</text>
<circle cx="565.05" cy="152.03" r="1.9" fill="#000"/>
<text x="565.05" y="130.33" font-family="'Liberation Sans', Arial, Helvetica, sans-serif" font-size="9.6" fill="#000000" stroke="#000000" stroke-width="0.07" text-anchor="middle">7:49 pm</text>
<text x="565.05" y="138.12" font-family="'Liberation Sans', Arial, Helvetica, sans-serif" font-size="9.6" fill="#000000" stroke="#000000" stroke-width="0.07" text-anchor="middle">17.9 ft</text>
<text x="565.05" y="148.22" font-family="'Liberation Sans', Arial, Helvetica, sans-serif" font-size="9.6" fill="#000000" stroke="#000000" stroke-width="0.07" text-anchor="middle">5.45 m</text>
<circle cx="587.11" cy="364.54" r="1.9" fill="#000"/>
<text x="587.11" y="374.84" font-family="'Liberation Sans', Arial, Helvetica, sans-serif" font-size="9.6" fill="#000000" stroke="#000000" stroke-width="0.07" text-anchor="middle">0.07 m</text>
<text x="587.11" y="384.84" font-family="'Liberation Sans', Arial, Helvetica, sans-serif" font-size="9.6" fill="#000000" stroke="#000000" stroke-width="0.07" text-anchor="middle">0.2 ft</text>
<text x="587.11" y="393.94" font-family="'Liberation Sans', Arial, Helvetica, sans-serif" font-size="9.6" fill="#000000" stroke="#000000" stroke-width="0.07" text-anchor="middle">2:44 am</text>
<circle cx="606.36" cy="223.92" r="1.9" fill="#000"/>
<text x="606.36" y="202.22" font-family="'Liberation Sans', Arial, Helvetica, sans-serif" font-size="9.6" fill="#000000" stroke="#000000" stroke-width="0.07" text-anchor="middle">8:46 am</text>
<text x="606.36" y="210.02" font-family="'Liberation Sans', Arial, Helvetica, sans-serif" font-size="9.6" fill="#000000" stroke="#000000" stroke-width="0.07" text-anchor="middle">11.9 ft</text>
<text x="606.36" y="220.12" font-family="'Liberation Sans', Arial, Helvetica, sans-serif" font-size="9.6" fill="#000000" stroke="#000000" stroke-width="0.07" text-anchor="middle">3.63 m</text>
<circle cx="622.84" cy="307.26" r="1.9" fill="#000"/>
<text x="622.84" y="317.56" font-family="'Liberation Sans', Arial, Helvetica, sans-serif" font-size="9.6" fill="#000000" stroke="#000000" stroke-width="0.07" text-anchor="middle">1.52 m</text>
<text x="622.84" y="327.56" font-family="'Liberation Sans', Arial, Helvetica, sans-serif" font-size="9.6" fill="#000000" stroke="#000000" stroke-width="0.07" text-anchor="middle">5.0 ft</text>
<text x="622.84" y="336.66" font-family="'Liberation Sans', Arial, Helvetica, sans-serif" font-size="9.6" fill="#000000" stroke="#000000" stroke-width="0.07" text-anchor="middle">1:56 pm</text>
<circle cx="643.09" cy="146.89" r="1.9" fill="#000"/>
<text x="643.09" y="125.19" font-family="'Liberation Sans', Arial, Helvetica, sans-serif" font-size="9.6" fill="#000000" stroke="#000000" stroke-width="0.07" text-anchor="middle">8:17 pm</text>
<text x="643.09" y="132.99" font-family="'Liberation Sans', Arial, Helvetica, sans-serif" font-size="9.6" fill="#000000" stroke="#000000" stroke-width="0.07" text-anchor="middle">18.3 ft</text>
<text x="643.09" y="143.09" font-family="'Liberation Sans', Arial, Helvetica, sans-serif" font-size="9.6" fill="#000000" stroke="#000000" stroke-width="0.07" text-anchor="middle">5.58 m</text>
<circle cx="665.42" cy="374.81" r="1.9" fill="#000"/>
<text x="665.42" y="385.11" font-family="'Liberation Sans', Arial, Helvetica, sans-serif" font-size="9.6" fill="#000000" stroke="#000000" stroke-width="0.07" text-anchor="middle">–0.19 m</text>
<text x="665.42" y="395.11" font-family="'Liberation Sans', Arial, Helvetica, sans-serif" font-size="9.6" fill="#000000" stroke="#000000" stroke-width="0.07" text-anchor="middle">–0.6 ft</text>
<text x="665.42" y="404.20" font-family="'Liberation Sans', Arial, Helvetica, sans-serif" font-size="9.6" fill="#000000" stroke="#000000" stroke-width="0.07" text-anchor="middle">3:17 am</text>
<circle cx="685.04" cy="223.52" r="1.9" fill="#000"/>
<text x="685.04" y="201.82" font-family="'Liberation Sans', Arial, Helvetica, sans-serif" font-size="9.6" fill="#000000" stroke="#000000" stroke-width="0.07" text-anchor="middle">9:26 am</text>
<text x="685.04" y="209.62" font-family="'Liberation Sans', Arial, Helvetica, sans-serif" font-size="9.6" fill="#000000" stroke="#000000" stroke-width="0.07" text-anchor="middle">11.9 ft</text>
<text x="685.04" y="219.72" font-family="'Liberation Sans', Arial, Helvetica, sans-serif" font-size="9.6" fill="#000000" stroke="#000000" stroke-width="0.07" text-anchor="middle">3.64 m</text>
<circle cx="700.89" cy="300.55" r="1.9" fill="#000"/>
<text x="700.89" y="310.85" font-family="'Liberation Sans', Arial, Helvetica, sans-serif" font-size="9.6" fill="#000000" stroke="#000000" stroke-width="0.07" text-anchor="middle">1.69 m</text>
<text x="700.89" y="320.85" font-family="'Liberation Sans', Arial, Helvetica, sans-serif" font-size="9.6" fill="#000000" stroke="#000000" stroke-width="0.07" text-anchor="middle">5.5 ft</text>
<text x="700.89" y="329.94" font-family="'Liberation Sans', Arial, Helvetica, sans-serif" font-size="9.6" fill="#000000" stroke="#000000" stroke-width="0.07" text-anchor="middle">2:24 pm</text>
<polygon points="397.46,330.30 393.06,338.10 401.86,338.10" fill="#e8e03c" stroke="#8a7a20" stroke-width="0.7"/>
<text x="46" y="478.6" font-family="'Liberation Sans', Arial, Helvetica, sans-serif" font-size="11" fill="#000000" text-anchor="end">Sunrise</text>
<text x="746.3" y="478.6" font-family="'Liberation Sans', Arial, Helvetica, sans-serif" font-size="11" fill="#000000">Sunrise</text>
<text x="46" y="492.7" font-family="'Liberation Sans', Arial, Helvetica, sans-serif" font-size="11" fill="#000000" text-anchor="end">Sunset</text>
<text x="746.3" y="492.7" font-family="'Liberation Sans', Arial, Helvetica, sans-serif" font-size="11" fill="#000000">Sunset</text>
<text x="46" y="506.0" font-family="'Liberation Sans', Arial, Helvetica, sans-serif" font-size="11" fill="#000000" text-anchor="end">Moonrise</text>
<text x="746.3" y="506.0" font-family="'Liberation Sans', Arial, Helvetica, sans-serif" font-size="11" fill="#000000">Moonrise</text>
<text x="46" y="519.5" font-family="'Liberation Sans', Arial, Helvetica, sans-serif" font-size="11" fill="#000000" text-anchor="end">Moonset</text>
<text x="746.3" y="519.5" font-family="'Liberation Sans', Arial, Helvetica, sans-serif" font-size="11" fill="#000000">Moonset</text>
<polygon points="137.21,468.10 139.21,472.25 143.78,472.87 140.45,476.05 141.27,480.58 137.21,478.40 133.16,480.58 133.98,476.05 130.65,472.87 135.21,472.25" fill="#b5b23a" stroke="#7a5a14" stroke-width="0.8"/><circle cx="137.21" cy="475.00" r="4.0" fill="#b9b63e" stroke="#7a5a14" stroke-width="0.6"/>
<text x="143.71" y="477.8" font-family="'Liberation Sans', Arial, Helvetica, sans-serif" font-size="9.4" fill="#000000">5:42am</text>
<polygon points="213.77,468.10 215.77,472.25 220.34,472.87 217.01,476.05 217.83,480.58 213.77,478.40 209.72,480.58 210.54,476.05 207.21,472.87 211.77,472.25" fill="#b5b23a" stroke="#7a5a14" stroke-width="0.8"/><circle cx="213.77" cy="475.00" r="4.0" fill="#b9b63e" stroke="#7a5a14" stroke-width="0.6"/>
<text x="220.27" y="477.8" font-family="'Liberation Sans', Arial, Helvetica, sans-serif" font-size="9.4" fill="#000000">5:42am</text>
<polygon points="290.28,468.10 292.28,472.25 296.84,472.87 293.51,476.05 294.34,480.58 290.28,478.40 286.22,480.58 287.05,476.05 283.72,472.87 288.28,472.25" fill="#b5b23a" stroke="#7a5a14" stroke-width="0.8"/><circle cx="290.28" cy="475.00" r="4.0" fill="#b9b63e" stroke="#7a5a14" stroke-width="0.6"/>
<text x="296.78" y="477.8" font-family="'Liberation Sans', Arial, Helvetica, sans-serif" font-size="9.4" fill="#000000">5:41am</text>
<polygon points="366.84,468.10 368.84,472.25 373.40,472.87 370.07,476.05 370.90,480.58 366.84,478.40 362.78,480.58 363.61,476.05 360.28,472.87 364.84,472.25" fill="#b5b23a" stroke="#7a5a14" stroke-width="0.8"/><circle cx="366.84" cy="475.00" r="4.0" fill="#b9b63e" stroke="#7a5a14" stroke-width="0.6"/>
<text x="373.34" y="477.8" font-family="'Liberation Sans', Arial, Helvetica, sans-serif" font-size="9.4" fill="#000000">5:41am</text>
<polygon points="443.40,468.10 445.40,472.25 449.96,472.87 446.63,476.05 447.46,480.58 443.40,478.40 439.34,480.58 440.17,476.05 436.84,472.87 441.40,472.25" fill="#b5b23a" stroke="#7a5a14" stroke-width="0.8"/><circle cx="443.40" cy="475.00" r="4.0" fill="#b9b63e" stroke="#7a5a14" stroke-width="0.6"/>
<text x="449.90" y="477.8" font-family="'Liberation Sans', Arial, Helvetica, sans-serif" font-size="9.4" fill="#000000">5:41am</text>
<polygon points="519.96,468.10 521.96,472.25 526.52,472.87 523.19,476.05 524.02,480.58 519.96,478.40 515.90,480.58 516.73,476.05 513.40,472.87 517.96,472.25" fill="#b5b23a" stroke="#7a5a14" stroke-width="0.8"/><circle cx="519.96" cy="475.00" r="4.0" fill="#b9b63e" stroke="#7a5a14" stroke-width="0.6"/>
<text x="526.46" y="477.8" font-family="'Liberation Sans', Arial, Helvetica, sans-serif" font-size="9.4" fill="#000000">5:41am</text>
<polygon points="596.52,468.10 598.52,472.25 603.08,472.87 599.75,476.05 600.58,480.58 596.52,478.40 592.46,480.58 593.29,476.05 589.96,472.87 594.52,472.25" fill="#b5b23a" stroke="#7a5a14" stroke-width="0.8"/><circle cx="596.52" cy="475.00" r="4.0" fill="#b9b63e" stroke="#7a5a14" stroke-width="0.6"/>
<text x="603.02" y="477.8" font-family="'Liberation Sans', Arial, Helvetica, sans-serif" font-size="9.4" fill="#000000">5:41am</text>
<polygon points="673.08,468.10 675.08,472.25 679.64,472.87 676.31,476.05 677.14,480.58 673.08,478.40 669.02,480.58 669.85,476.05 666.52,472.87 671.08,472.25" fill="#b5b23a" stroke="#7a5a14" stroke-width="0.8"/><circle cx="673.08" cy="475.00" r="4.0" fill="#b9b63e" stroke="#7a5a14" stroke-width="0.6"/>
<text x="679.58" y="477.8" font-family="'Liberation Sans', Arial, Helvetica, sans-serif" font-size="9.4" fill="#000000">5:41am</text>
<polygon points="106.00,481.30 108.00,485.45 112.57,486.07 109.24,489.25 110.06,493.78 106.00,491.60 101.95,493.78 102.77,489.25 99.44,486.07 104.01,485.45" fill="#857820"/><circle cx="106.00" cy="488.20" r="3.8" fill="#d83c2c" stroke="#6a6a14" stroke-width="0.5"/>
<text x="112.70" y="492.7" font-family="'Liberation Sans', Arial, Helvetica, sans-serif" font-size="9.4" fill="#000000">7:55pm</text>
<polygon points="182.62,481.30 184.62,485.45 189.18,486.07 185.85,489.25 186.67,493.78 182.62,491.60 178.56,493.78 179.38,489.25 176.06,486.07 180.62,485.45" fill="#857820"/><circle cx="182.62" cy="488.20" r="3.8" fill="#d83c2c" stroke="#6a6a14" stroke-width="0.5"/>
<text x="189.32" y="492.7" font-family="'Liberation Sans', Arial, Helvetica, sans-serif" font-size="9.4" fill="#000000">7:56pm</text>
<polygon points="259.18,481.30 261.18,485.45 265.74,486.07 262.41,489.25 263.23,493.78 259.18,491.60 255.12,493.78 255.94,489.25 252.62,486.07 257.18,485.45" fill="#857820"/><circle cx="259.18" cy="488.20" r="3.8" fill="#d83c2c" stroke="#6a6a14" stroke-width="0.5"/>
<text x="265.88" y="492.7" font-family="'Liberation Sans', Arial, Helvetica, sans-serif" font-size="9.4" fill="#000000">7:56pm</text>
<polygon points="335.79,481.30 337.79,485.45 342.35,486.07 339.02,489.25 339.85,493.78 335.79,491.60 331.73,493.78 332.56,489.25 329.23,486.07 333.79,485.45" fill="#857820"/><circle cx="335.79" cy="488.20" r="3.8" fill="#d83c2c" stroke="#6a6a14" stroke-width="0.5"/>
<text x="342.49" y="492.7" font-family="'Liberation Sans', Arial, Helvetica, sans-serif" font-size="9.4" fill="#000000">7:57pm</text>
<polygon points="412.40,481.30 414.40,485.45 418.97,486.07 415.64,489.25 416.46,493.78 412.40,491.60 408.35,493.78 409.17,489.25 405.84,486.07 410.41,485.45" fill="#857820"/><circle cx="412.40" cy="488.20" r="3.8" fill="#d83c2c" stroke="#6a6a14" stroke-width="0.5"/>
<text x="419.10" y="492.7" font-family="'Liberation Sans', Arial, Helvetica, sans-serif" font-size="9.4" fill="#000000">7:58pm</text>
<polygon points="488.96,481.30 490.96,485.45 495.53,486.07 492.20,489.25 493.02,493.78 488.96,491.60 484.91,493.78 485.73,489.25 482.40,486.07 486.97,485.45" fill="#857820"/><circle cx="488.96" cy="488.20" r="3.8" fill="#d83c2c" stroke="#6a6a14" stroke-width="0.5"/>
<text x="495.66" y="492.7" font-family="'Liberation Sans', Arial, Helvetica, sans-serif" font-size="9.4" fill="#000000">7:58pm</text>
<polygon points="565.58,481.30 567.58,485.45 572.14,486.07 568.81,489.25 569.63,493.78 565.58,491.60 561.52,493.78 562.34,489.25 559.01,486.07 563.58,485.45" fill="#857820"/><circle cx="565.58" cy="488.20" r="3.8" fill="#d83c2c" stroke="#6a6a14" stroke-width="0.5"/>
<text x="572.28" y="492.7" font-family="'Liberation Sans', Arial, Helvetica, sans-serif" font-size="9.4" fill="#000000">7:59pm</text>
<polygon points="642.14,481.30 644.14,485.45 648.70,486.07 645.37,489.25 646.19,493.78 642.14,491.60 638.08,493.78 638.90,489.25 635.57,486.07 640.14,485.45" fill="#857820"/><circle cx="642.14" cy="488.20" r="3.8" fill="#d83c2c" stroke="#6a6a14" stroke-width="0.5"/>
<text x="648.84" y="492.7" font-family="'Liberation Sans', Arial, Helvetica, sans-serif" font-size="9.4" fill="#000000">7:59pm</text>
<circle cx="157.20" cy="502.3" r="5.2" fill="#ffffc4" stroke="#8e8e86" stroke-width="0.9"/>
<text x="164.20" y="505.6" font-family="'Liberation Sans', Arial, Helvetica, sans-serif" font-size="9.4" fill="#000000">11:58am</text>
<circle cx="236.95" cy="502.3" r="5.2" fill="#ffffc4" stroke="#8e8e86" stroke-width="0.9"/>
<text x="243.95" y="505.6" font-family="'Liberation Sans', Arial, Helvetica, sans-serif" font-size="9.4" fill="#000000">12:58pm</text>
<circle cx="316.60" cy="502.3" r="5.2" fill="#ffffc4" stroke="#8e8e86" stroke-width="0.9"/>
<text x="323.60" y="505.6" font-family="'Liberation Sans', Arial, Helvetica, sans-serif" font-size="9.4" fill="#000000">1:56pm</text>
<circle cx="396.13" cy="502.3" r="5.2" fill="#ffffc4" stroke="#8e8e86" stroke-width="0.9"/>
<text x="403.13" y="505.6" font-family="'Liberation Sans', Arial, Helvetica, sans-serif" font-size="9.4" fill="#000000">2:52pm</text>
<circle cx="475.62" cy="502.3" r="5.2" fill="#ffffc4" stroke="#8e8e86" stroke-width="0.9"/>
<text x="482.62" y="505.6" font-family="'Liberation Sans', Arial, Helvetica, sans-serif" font-size="9.4" fill="#000000">3:47pm</text>
<circle cx="555.05" cy="502.3" r="5.2" fill="#ffffc4" stroke="#8e8e86" stroke-width="0.9"/>
<text x="562.05" y="505.6" font-family="'Liberation Sans', Arial, Helvetica, sans-serif" font-size="9.4" fill="#000000">4:41pm</text>
<circle cx="634.43" cy="502.3" r="5.2" fill="#ffffc4" stroke="#8e8e86" stroke-width="0.9"/>
<text x="641.43" y="505.6" font-family="'Liberation Sans', Arial, Helvetica, sans-serif" font-size="9.4" fill="#000000">5:34pm</text>
<circle cx="121.10" cy="515.4" r="5.2" fill="#c8c8b8" stroke="#6e6e66" stroke-width="1"/>
<text x="128.10" y="519.0" font-family="'Liberation Sans', Arial, Helvetica, sans-serif" font-size="9.4" fill="#000000">12:39am</text>
<circle cx="199.74" cy="515.4" r="5.2" fill="#c8c8b8" stroke="#6e6e66" stroke-width="1"/>
<text x="206.74" y="519.0" font-family="'Liberation Sans', Arial, Helvetica, sans-serif" font-size="9.4" fill="#000000">1:18am</text>
<circle cx="278.21" cy="515.4" r="5.2" fill="#c8c8b8" stroke="#6e6e66" stroke-width="1"/>
<text x="285.21" y="519.0" font-family="'Liberation Sans', Arial, Helvetica, sans-serif" font-size="9.4" fill="#000000">1:54am</text>
<circle cx="356.58" cy="515.4" r="5.2" fill="#c8c8b8" stroke="#6e6e66" stroke-width="1"/>
<text x="363.58" y="519.0" font-family="'Liberation Sans', Arial, Helvetica, sans-serif" font-size="9.4" fill="#000000">2:28am</text>
<circle cx="434.84" cy="515.4" r="5.2" fill="#c8c8b8" stroke="#6e6e66" stroke-width="1"/>
<text x="441.84" y="519.0" font-family="'Liberation Sans', Arial, Helvetica, sans-serif" font-size="9.4" fill="#000000">3:00am</text>
<circle cx="513.15" cy="515.4" r="5.2" fill="#c8c8b8" stroke="#6e6e66" stroke-width="1"/>
<text x="520.15" y="519.0" font-family="'Liberation Sans', Arial, Helvetica, sans-serif" font-size="9.4" fill="#000000">3:33am</text>
<circle cx="591.47" cy="515.4" r="5.2" fill="#c8c8b8" stroke="#6e6e66" stroke-width="1"/>
<text x="598.47" y="519.0" font-family="'Liberation Sans', Arial, Helvetica, sans-serif" font-size="9.4" fill="#000000">4:06am</text>
<circle cx="669.89" cy="515.4" r="5.2" fill="#c8c8b8" stroke="#6e6e66" stroke-width="1"/>
<text x="676.89" y="519.0" font-family="'Liberation Sans', Arial, Helvetica, sans-serif" font-size="9.4" fill="#000000">4:41am</text>
<text x="157.1" y="532.6" font-family="'Liberation Sans', Arial, Helvetica, sans-serif" font-size="9.4" fill="#000000">First Quarter | 5:43am</text>
</svg>
</body></html>
